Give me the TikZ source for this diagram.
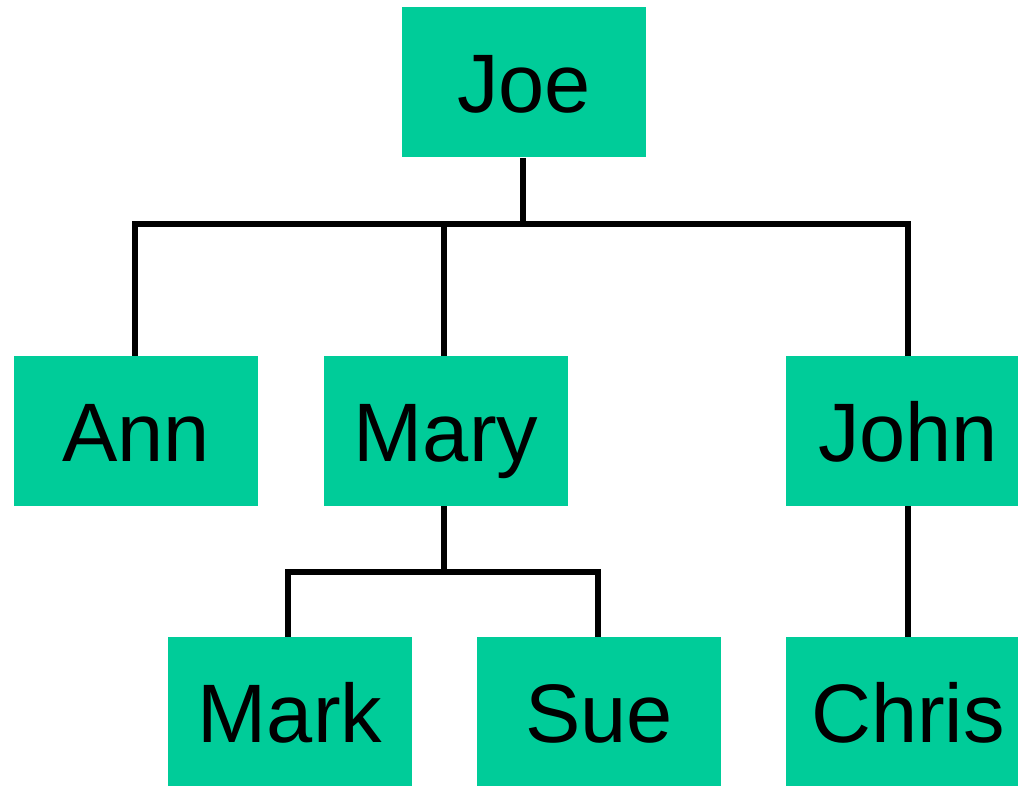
\documentclass[tikz,border=0pt]{standalone}
\usepackage{fontspec}
\setmainfont{Liberation Sans}
\definecolor{boxgreen}{HTML}{00CC99}
\begin{document}
\begin{tikzpicture}[x=0.5pt,y=-0.5pt,
  person/.style={rectangle, fill=boxgreen, draw=none, inner sep=0pt,
    minimum width=122pt, minimum height=75pt, text height=30pt, text depth=0pt,
    font=\fontsize{41.5}{50}\selectfont},
  link/.style={line width=2.6pt, black}]
\useasboundingbox (0,0) rectangle (1018,786);
\begin{scope}
\clip (0,0) rectangle (1018,786);
\node[person] (joe)   at (524,82.5) {Joe};
\node[person] (ann)   at (136,431)  {Ann};
\node[person] (mary)  at (446,431)  {Mary};
\node[person] (john)  at (908,431)  {John};
\node[person] (mark)  at (290,712)  {Mark};
\node[person] (sue)   at (599,712)  {Sue};
\node[person] (chris) at (908,712)  {Chris};
\end{scope}
% branch points
\coordinate (jbar) at (523,224);
\coordinate (mbar) at (444,572);
% Joe's children
\draw[link] (joe.south -| jbar) -- (jbar);
\draw[link] (ann.north -| 135,0) -- (135,224) -- (908,224) -- (john.north -| 908,0);
\draw[link] (444,224) -- (mary.north -| 444,0);
% Mary's children
\draw[link] (mary.south -| mbar) -- (mbar);
\draw[link] (mark.north -| 288,0) -- (288,572) -- (598,572) -- (sue.north -| 598,0);
% John's child
\draw[link] (john.south -| 908,0) -- (chris.north -| 908,0);
\end{tikzpicture}
\end{document}
